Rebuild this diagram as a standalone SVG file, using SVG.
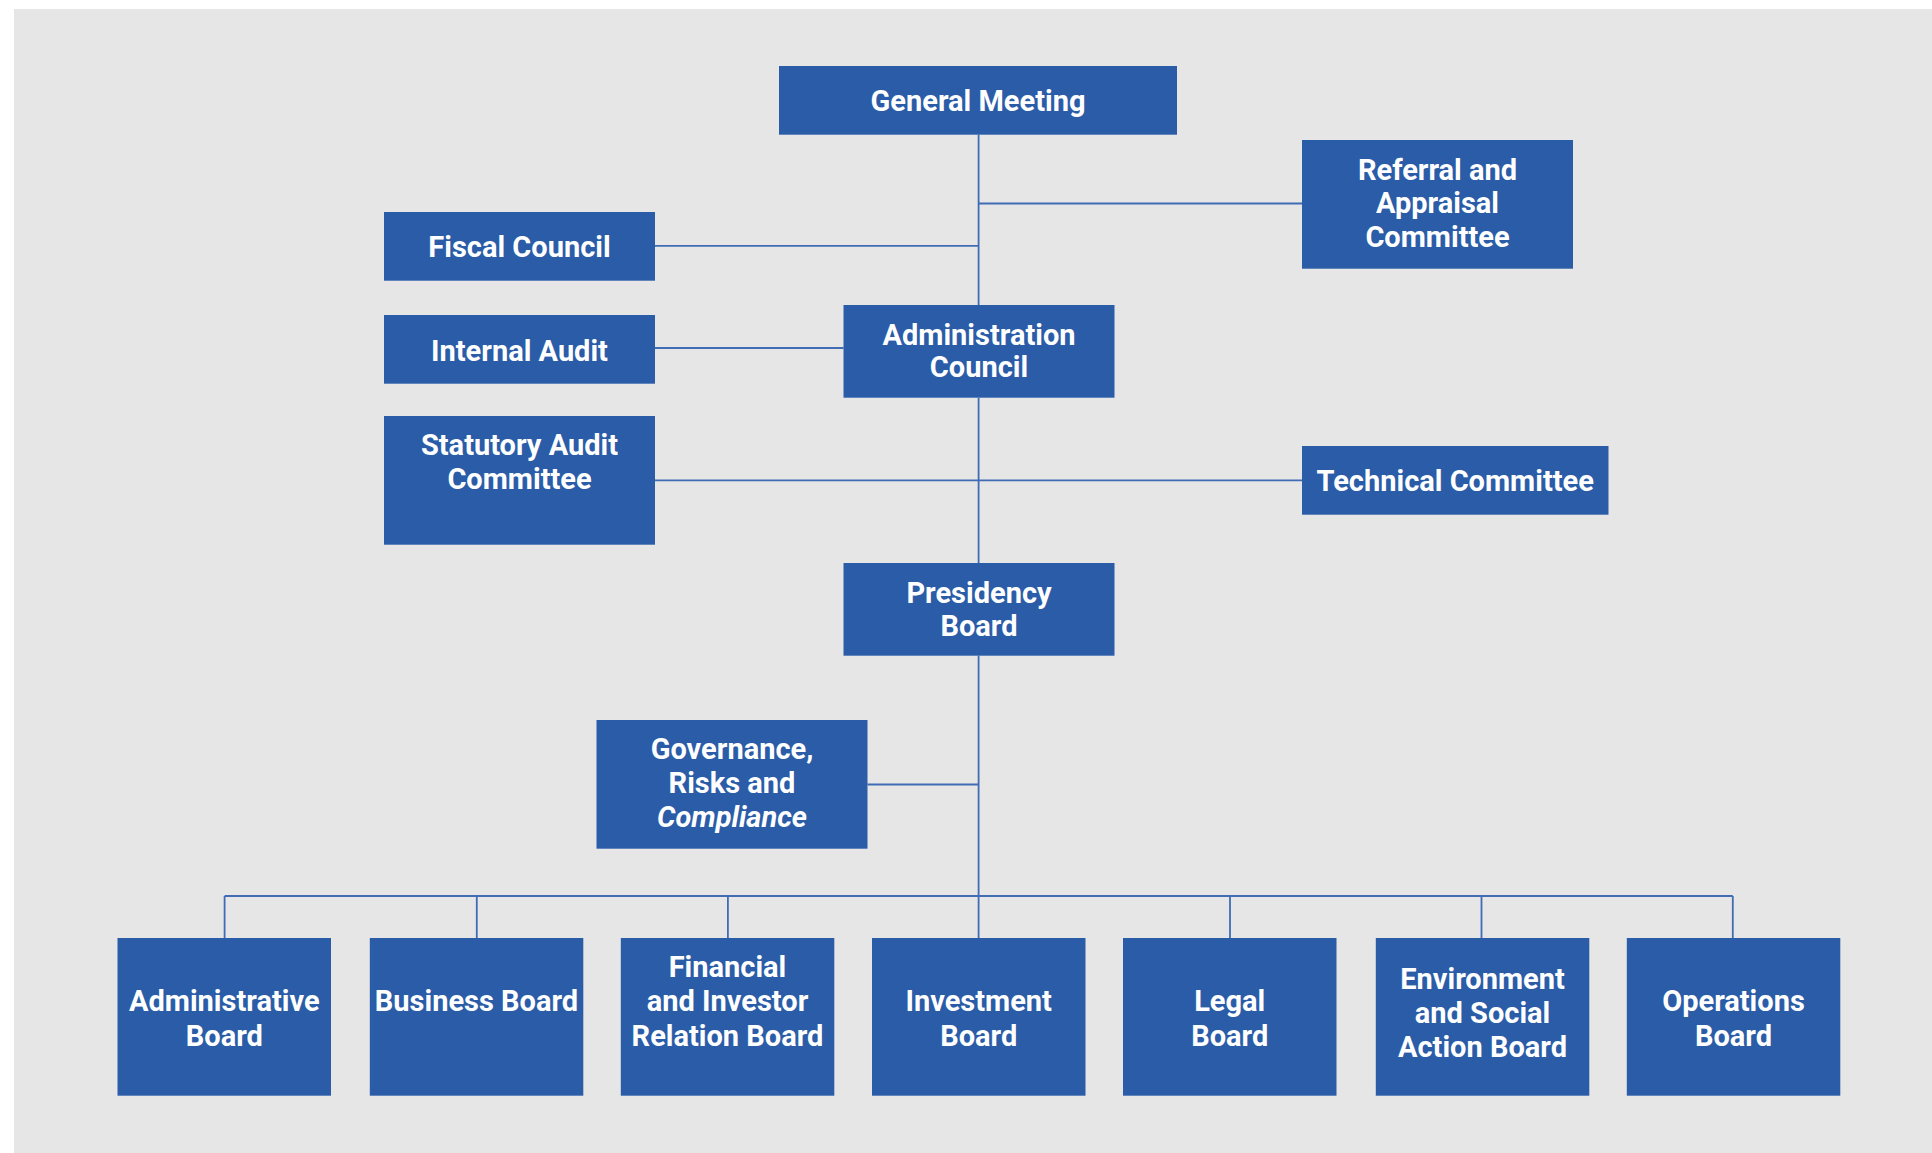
<svg xmlns="http://www.w3.org/2000/svg" width="1932" height="1153" viewBox="0 0 1932 1153">
<style>
.box{fill:#2a5ca8}
.t{fill:#ffffff;font-family:Roboto,"Liberation Sans",sans-serif;font-weight:700;font-size:29px;text-anchor:middle}
.c{stroke:#3f6cb4;stroke-width:1.8;fill:none}
</style>
<rect x="0" y="0" width="1932" height="1153" fill="#ffffff"/>
<rect x="14" y="9" width="1918" height="1144" fill="#e6e6e6"/>
<g id="connectors" class="c">
<path d="M978.6 134.7V305"/>
<path d="M978.6 203.5H1302"/>
<path d="M655 245.8H978.6"/>
<path d="M655 348H843.5"/>
<path d="M978.6 397.7V563"/>
<path d="M655 480.3H1302"/>
<path d="M978.6 655.7V938"/>
<path d="M867.5 784.5H978.6"/>
<path d="M224.6 896H1732.8"/>
<path d="M224.6 896V938M476.8 896V938M727.9 896V938M1230 896V938M1481.5 896V938M1732.8 896V938"/>
</g>
<g id="general-meeting"><rect class="box" x="779" y="66" width="398" height="68.7"/><text class="t" x="978" y="111.2">General Meeting</text></g>
<g id="referral"><rect class="box" x="1302" y="140" width="271" height="128.7"/><text class="t" x="1437.5" y="179.5">Referral and</text><text class="t" x="1437.5" y="213.4">Appraisal</text><text class="t" x="1437.5" y="247.2">Committee</text></g>
<g id="fiscal-council"><rect class="box" x="384" y="212" width="271" height="68.7"/><text class="t" x="519.5" y="257.2">Fiscal Council</text></g>
<g id="internal-audit"><rect class="box" x="384" y="315" width="271" height="68.7"/><text class="t" x="519.5" y="360.5">Internal Audit</text></g>
<g id="administration-council"><rect class="box" x="843.5" y="305" width="271" height="92.7"/><text class="t" x="979" y="344.5">Administration</text><text class="t" x="979" y="377.2">Council</text></g>
<g id="statutory-audit"><rect class="box" x="384" y="416" width="271" height="128.7"/><text class="t" x="519.5" y="455.2">Statutory Audit</text><text class="t" x="519.5" y="488.5">Committee</text></g>
<g id="technical-committee"><rect class="box" x="1302" y="446" width="306.5" height="68.7"/><text class="t" x="1455.2" y="490.5">Technical Committee</text></g>
<g id="presidency-board"><rect class="box" x="843.5" y="563" width="271" height="92.7"/><text class="t" x="979" y="602.9">Presidency</text><text class="t" x="979" y="636.2">Board</text></g>
<g id="governance"><rect class="box" x="596.5" y="720" width="271" height="128.7"/><text class="t" x="732" y="758.5">Governance,</text><text class="t" x="732" y="792.9">Risks and</text><text class="t" x="732" y="827.2" font-style="italic">Compliance</text></g>
<g id="administrative-board"><rect class="box" x="117.5" y="938" width="213.5" height="157.7"/><text class="t" x="224.3" y="1011.2">Administrative</text><text class="t" x="224.3" y="1045.5">Board</text></g>
<g id="business-board"><rect class="box" x="369.8" y="938" width="213.5" height="157.7"/><text class="t" x="476.5" y="1011.2">Business Board</text></g>
<g id="financial-board"><rect class="box" x="620.8" y="938" width="213.5" height="157.7"/><text class="t" x="727.5" y="976.9">Financial</text><text class="t" x="727.5" y="1011.2">and Investor</text><text class="t" x="727.5" y="1045.5">Relation Board</text></g>
<g id="investment-board"><rect class="box" x="872" y="938" width="213.5" height="157.7"/><text class="t" x="978.7" y="1011.2">Investment</text><text class="t" x="978.7" y="1045.5">Board</text></g>
<g id="legal-board"><rect class="box" x="1123" y="938" width="213.5" height="157.7"/><text class="t" x="1229.7" y="1011.2">Legal</text><text class="t" x="1229.7" y="1045.5">Board</text></g>
<g id="environment-board"><rect class="box" x="1375.8" y="938" width="213.5" height="157.7"/><text class="t" x="1482.5" y="988.5">Environment</text><text class="t" x="1482.5" y="1022.5">and Social</text><text class="t" x="1482.5" y="1056.9">Action Board</text></g>
<g id="operations-board"><rect class="box" x="1626.8" y="938" width="213.5" height="157.7"/><text class="t" x="1733.5" y="1011.2">Operations</text><text class="t" x="1733.5" y="1045.5">Board</text></g>
</svg>
